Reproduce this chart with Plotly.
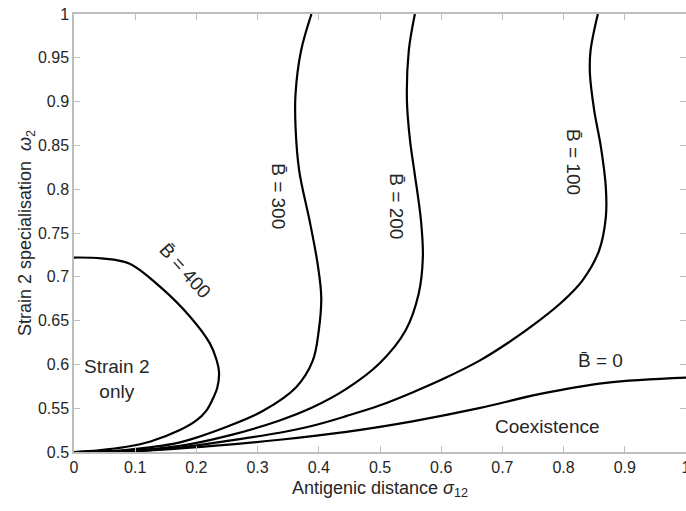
import plotly.graph_objects as go

# ---- data ----
b400_x = [0, 0.045, 0.091, 0.140, 0.189, 0.222, 0.233, 0.237, 0.234, 0.227, 0.216, 0.200, 0.173, 0.125, 0.086, 0.040, 0]
b400_y = [0.722, 0.721, 0.715, 0.689, 0.655, 0.624, 0.605, 0.591, 0.573, 0.561, 0.547, 0.536, 0.525, 0.512, 0.506, 0.502, 0.5]

b300_x = [0, 0.06, 0.12, 0.173, 0.254, 0.309, 0.363, 0.390, 0.400, 0.404, 0.398, 0.385, 0.368, 0.362, 0.362, 0.371, 0.388]
b300_y = [0.5, 0.501, 0.505, 0.511, 0.530, 0.547, 0.574, 0.604, 0.639, 0.677, 0.715, 0.764, 0.821, 0.871, 0.909, 0.958, 1.0]

b200_x = [0, 0.08, 0.173, 0.254, 0.336, 0.390, 0.445, 0.499, 0.542, 0.563, 0.570, 0.567, 0.556, 0.549, 0.544, 0.547, 0.557]
b200_y = [0.5, 0.501, 0.507, 0.519, 0.536, 0.551, 0.572, 0.601, 0.639, 0.680, 0.722, 0.764, 0.821, 0.856, 0.901, 0.958, 1.0]

b100_x = [0, 0.09, 0.173, 0.254, 0.336, 0.390, 0.445, 0.499, 0.553, 0.608, 0.662, 0.710, 0.760, 0.800, 0.831, 0.858, 0.869, 0.869, 0.861, 0.850, 0.843, 0.844, 0.856]
b100_y = [0.5, 0.501, 0.505, 0.513, 0.522, 0.530, 0.541, 0.553, 0.568, 0.585, 0.604, 0.625, 0.650, 0.673, 0.696, 0.730, 0.768, 0.802, 0.848, 0.890, 0.932, 0.958, 1.0]

b0_x = [0, 0.10, 0.227, 0.336, 0.445, 0.553, 0.662, 0.760, 0.869, 1.0]
b0_y = [0.5, 0.501, 0.507, 0.514, 0.523, 0.535, 0.550, 0.566, 0.579, 0.585]

x_ticks = [0, 0.1, 0.2, 0.3, 0.4, 0.5, 0.6, 0.7, 0.8, 0.9, 1]
x_tick_labels = ["0", "0.1", "0.2", "0.3", "0.4", "0.5", "0.6", "0.7", "0.8", "0.9", "1"]
y_ticks = [0.5, 0.55, 0.6, 0.65, 0.7, 0.75, 0.8, 0.85, 0.9, 0.95, 1]
y_tick_labels = ["0.5", "0.55", "0.6", "0.65", "0.7", "0.75", "0.8", "0.85", "0.9", "0.95", "1"]

BBAR = "B\u0304"
curve_labels = [
    (BBAR + " = 400", 0.181, 0.707, 48),
    (BBAR + " = 300", 0.335, 0.792, 90),
    (BBAR + " = 200", 0.527, 0.781, 90),
    (BBAR + " = 100", 0.817, 0.831, 90),
    (BBAR + " = 0", 0.860, 0.604, 0),
]
region_labels = [
    ("Strain 2<br>only", 0.070, 0.583),
    ("Coexistence", 0.774, 0.529),
]

FONT = "Arial, Liberation Sans, Helvetica, sans-serif"
TXT = "#262626"
AX = "#bdbdbd"

fig = go.Figure()
for xs, ys in [(b400_x, b400_y), (b300_x, b300_y), (b200_x, b200_y), (b100_x, b100_y), (b0_x, b0_y)]:
    fig.add_trace(go.Scatter(x=xs, y=ys, mode="lines",
                             line=dict(color="black", width=2.2, shape="spline", smoothing=1.0),
                             showlegend=False, hoverinfo="skip"))

for t, x, y, a in curve_labels:
    fig.add_annotation(x=x, y=y, text=t, textangle=a, showarrow=False,
                       font=dict(family=FONT, size=19, color=TXT))
for t, x, y in region_labels:
    fig.add_annotation(x=x, y=y, text=t, showarrow=False,
                       font=dict(family=FONT, size=19, color=TXT))

fig.update_layout(
    width=686, height=511,
    margin=dict(l=74, r=0, t=14, b=59, autoexpand=False),
    paper_bgcolor="white", plot_bgcolor="white",
    font=dict(family=FONT, color=TXT),
    xaxis=dict(range=[0, 1], tickvals=x_ticks, ticktext=x_tick_labels,
               ticks="inside", ticklen=6, tickcolor=AX, tickwidth=1,
               showline=True, linecolor=AX, linewidth=1.5, mirror="ticks",
               showgrid=False, zeroline=False, ticklabeloverflow="allow",
               automargin=False,
               tickfont=dict(size=16, color=TXT),
               title=dict(text="Antigenic distance <i>σ</i><sub>12</sub>",
                          font=dict(size=18, color=TXT), standoff=6)),
    yaxis=dict(range=[0.5, 1], tickvals=y_ticks, ticktext=y_tick_labels,
               ticks="inside", ticklen=6, tickcolor=AX, tickwidth=1,
               showline=True, linecolor=AX, linewidth=1.5, mirror="ticks",
               showgrid=False, zeroline=False, automargin=False,
               tickfont=dict(size=16, color=TXT),
               title=dict(text="Strain 2 specialisation  <i>ω</i><sub>2</sub>",
                          font=dict(size=18, color=TXT), standoff=0)),
)

fig.write_html("out.html", config={"displayModeBar": False},
               post_script="document.body.style.margin='0px';document.body.style.overflow='hidden';")
